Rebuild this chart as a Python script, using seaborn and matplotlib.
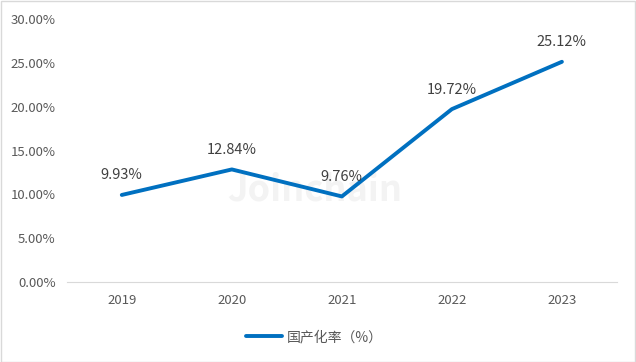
import pandas as pd
import seaborn as sns
import matplotlib.pyplot as plt
from matplotlib.ticker import FuncFormatter

years = ['2019', '2020', '2021', '2022', '2023']
rate = [9.93, 12.84, 9.76, 19.72, 25.12]
series_name = '国产化率（%）'

df = pd.DataFrame({'year': years, 'rate': rate})

sns.set_style('white')
plt.rcParams['font.family'] = ['Noto Sans CJK SC', 'DejaVu Sans']

fig = plt.figure(figsize=(6.36, 3.62), dpi=100)
ax = fig.add_axes([0.105, 0.221, 0.865, 0.7265])

sns.lineplot(data=df, x='year', y='rate', ax=ax, color='#0070C0',
             linewidth=2.8, label=series_name, sort=False)

for i, v in enumerate(rate):
    ax.annotate(f'{v:.2f}%', (i, v), xytext=(0, 9), textcoords='offset points',
                ha='center', va='bottom', fontsize=10.5, color='#404040')

ax.set_xlim(-0.5, 4.5)
ax.set_ylim(0, 30)
ax.set_yticks([0, 5, 10, 15, 20, 25, 30])
ax.yaxis.set_major_formatter(FuncFormatter(lambda v, p: f'{v:.2f}%'))
ax.tick_params(axis='both', labelsize=9.5, colors='#595959', length=0)
ax.tick_params(axis='x', pad=9)
ax.tick_params(axis='y', pad=8)
ax.set_xlabel('')
ax.set_ylabel('')
for side in ['top', 'right', 'left']:
    ax.spines[side].set_visible(False)
ax.spines['bottom'].set_color('#d9d9d9')

# faint watermark
ax.text(1.75, 10.5, 'Joinchain', ha='center', va='center', fontsize=26,
        fontweight='bold', fontstyle='italic', color='#f3f3f3', zorder=0)

ax.legend(loc='upper center', bbox_to_anchor=(0.45, -0.135), frameon=False,
          fontsize=10, labelcolor='#595959', handlelength=2.6, handletextpad=0.4)

fig.patches.append(plt.Rectangle((0.001, 0.001), 0.997, 0.996, transform=fig.transFigure,
                                 fill=False, edgecolor='#d9d9d9', linewidth=1))

fig.savefig('out.png', dpi=100)
